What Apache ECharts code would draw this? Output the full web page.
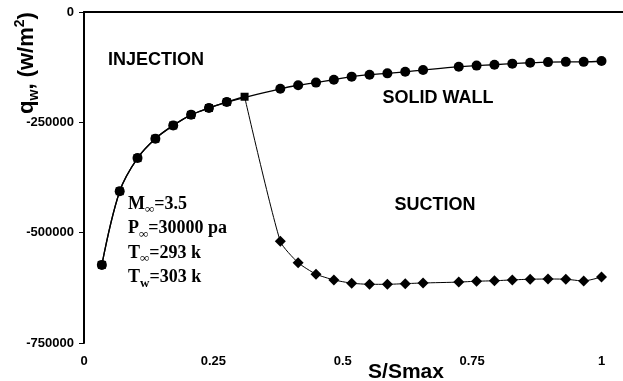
<!DOCTYPE html>
<html>
<head>
<meta charset="utf-8">
<script src="https://cdn.jsdelivr.net/npm/echarts@6/dist/echarts.min.js"></script>
<style>
html,body{margin:0;padding:0;background:#fff;}
#chart{width:623px;height:381px;}
</style>
</head>
<body>
<div id="chart"></div>
<script>
// S/Smax positions and wall heat flux values (W/m^2)
var commonS = [0.0345, 0.069, 0.1034, 0.1379, 0.1724, 0.2069, 0.2414, 0.2759, 0.3103];
var commonQ = [-573000, -406000, -331000, -287000, -257000, -233000, -217500, -204000, -192000];

var wallS = [0.0345, 0.069, 0.1034, 0.1379, 0.1724, 0.2069, 0.2414, 0.2759,
             0.3793, 0.4138, 0.4483, 0.4828, 0.5172, 0.5517, 0.5862, 0.6207, 0.6552,
             0.7241, 0.7586, 0.7931, 0.8276, 0.8621, 0.8966, 0.931, 0.9655, 1.0];
var wallQ = [-573000, -406000, -331000, -287000, -257000, -233000, -217500, -204000,
             -174000, -166000, -160000, -153500, -146500, -142000, -139000, -135500, -131500,
             -124000, -121500, -119500, -117000, -115000, -113500, -113000, -113000, -111000];

var suctionS = [0.3103, 0.3793, 0.4138, 0.4483, 0.4828, 0.5172, 0.5517, 0.5862, 0.6207, 0.6552,
                0.7241, 0.7586, 0.7931, 0.8276, 0.8621, 0.8966, 0.931, 0.9655, 1.0];
var suctionQ = [-192000, -519500, -568000, -594000, -607000, -614500, -617000, -617000, -615500, -614000,
                -612000, -610000, -609000, -607000, -605500, -605000, -605500, -609500, -600500];

var xTicks = [0, 0.25, 0.5, 0.75, 1];
var yTicks = [0, -250000, -500000, -750000];

var labels = {
  injection: 'INJECTION',
  wall: 'SOLID WALL',
  suction: 'SUCTION',
  xName: 'S/Smax'
};

function pairs(xs, ys) { return xs.map(function (x, i) { return [x, ys[i]]; }); }

var suctionData = pairs(suctionS, suctionQ).map(function (p, i) {
  return i === 0 ? { value: p, symbol: 'none' } : { value: p };
});

var chart = echarts.init(document.getElementById('chart'), null, { renderer: 'canvas' });
var sans = '"Liberation Sans", Arial, sans-serif';
var serif = '"Liberation Serif", "Times New Roman", serif';

var option = {
  animation: false,
  backgroundColor: '#fff',
  grid: { left: 84, top: 12, right: 0, bottom: 38, containLabel: false },
  xAxis: {
    type: 'value', min: 0, max: 1.0415, interval: 0.25,
    axisLine: { show: true, lineStyle: { color: '#000', width: 2 } },
    axisTick: { show: false },
    splitLine: { show: false },
    axisLabel: {
      margin: 12, color: '#000', fontFamily: sans, fontWeight: 'bold', fontSize: 13,
      showMaxLabel: false,
      formatter: function (v) { return xTicks.indexOf(v) >= 0 ? String(v) : ''; }
    }
  },
  yAxis: {
    type: 'value', min: -750000, max: 0, interval: 250000,
    axisLine: { show: true, onZero: false, lineStyle: { color: '#000', width: 2 } },
    axisTick: { show: true, inside: false, length: 5, lineStyle: { color: '#000', width: 1 } },
    splitLine: { show: false },
    axisLabel: {
      margin: 10, color: '#000', fontFamily: sans, fontWeight: 'bold', fontSize: 13,
      formatter: function (v) { return yTicks.indexOf(v) >= 0 ? String(v) : ''; }
    }
  },
  series: [
    {
      type: 'line', data: pairs(commonS, commonQ), smooth: 0.35,
      symbol: 'rect', symbolSize: 8,
      lineStyle: { color: '#000', width: 1.3 }, itemStyle: { color: '#000' }, z: 2
    },
    {
      type: 'line', data: pairs(wallS, wallQ), smooth: 0.35,
      symbol: 'circle', symbolSize: 10,
      lineStyle: { color: '#000', width: 1.3 }, itemStyle: { color: '#000' }, z: 3
    },
    {
      type: 'line', data: suctionData, smooth: 0.2,
      symbol: 'diamond', symbolSize: 11,
      lineStyle: { color: '#000', width: 1 }, itemStyle: { color: '#000' }, z: 3
    }
  ],
  graphic: [
    { type: 'text', x: 156, y: 60, style: { text: labels.injection, font: 'bold 18px ' + sans, fill: '#000', align: 'center', verticalAlign: 'middle' } },
    { type: 'text', x: 438, y: 98, style: { text: labels.wall, font: 'bold 18px ' + sans, fill: '#000', align: 'center', verticalAlign: 'middle' } },
    { type: 'text', x: 435, y: 205, style: { text: labels.suction, font: 'bold 18px ' + sans, fill: '#000', align: 'center', verticalAlign: 'middle' } },
    { type: 'text', x: 406, y: 372, style: { text: labels.xName, font: 'bold 21px ' + sans, fill: '#000', align: 'center', verticalAlign: 'middle' } },
    {
      type: 'text', x: 27, y: 63, rotation: Math.PI / 2,
      style: {
        text: '{m|q}{s|w}{m|, (w/m}{p|2}{m|)}',
        align: 'center', verticalAlign: 'middle', fill: '#000',
        rich: {
          m: { font: 'bold 22px ' + sans, fill: '#000', lineHeight: 28, verticalAlign: 'middle' },
          s: { font: 'bold 14px ' + sans, fill: '#000', lineHeight: 13, verticalAlign: 'bottom' },
          p: { font: 'bold 14px ' + sans, fill: '#000', lineHeight: 13, verticalAlign: 'top' }
        }
      }
    },
    {
      type: 'text', x: 128, y: 192,
      style: {
        text: '{m|M}{s|\u221e}{m|=3.5}\n{m|P}{s|\u221e}{m|=30000 pa}\n{m|T}{s|\u221e}{m|=293 k}\n{m|T}{s|w}{m|=303 k}',
        align: 'left', verticalAlign: 'top', fill: '#000',
        rich: {
          m: { font: 'bold 18px ' + serif, fill: '#000', lineHeight: 24.5, verticalAlign: 'middle' },
          s: { font: 'bold 13px ' + serif, fill: '#000', lineHeight: 10, verticalAlign: 'bottom' }
        }
      }
    }
  ]
};
chart.setOption(option);
</script>
</body>
</html>
